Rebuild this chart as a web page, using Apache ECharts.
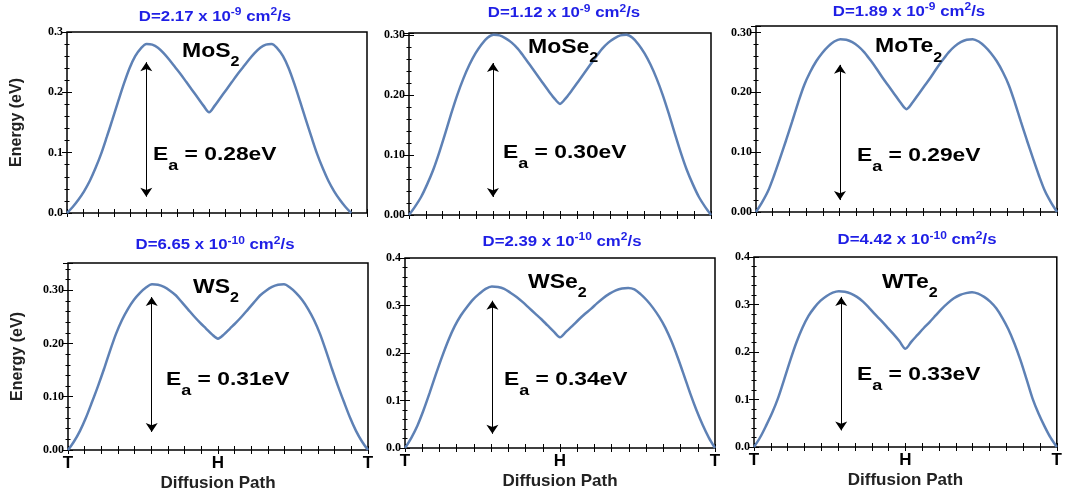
<!DOCTYPE html>
<html><head><meta charset="utf-8">
<script src="https://cdn.jsdelivr.net/npm/echarts@6/dist/echarts.min.js"></script>
<style>html,body{margin:0;padding:0;background:#fff}#c{width:1065px;height:494px}</style>
</head><body><div id="c"></div>
<script>
// ---------- data ----------
const pathX = [0, 0.02, 0.04, 0.06, 0.08, 0.10, 0.12, 0.14, 0.16, 0.18, 0.20, 0.22, 0.24, 0.26, 0.28,
               0.30, 0.32, 0.34, 0.36, 0.38, 0.40, 0.42, 0.44, 0.46, 0.48, 0.50,
               0.52, 0.54, 0.56, 0.58, 0.60, 0.62, 0.64, 0.66, 0.68, 0.70, 0.72, 0.74, 0.76, 0.78, 0.80,
               0.82, 0.84, 0.86, 0.88, 0.90, 0.92, 0.94, 0.96, 0.98, 1.00];
const energyMoS2 = [0, .010, .022, .036, .053, .074, .098, .126, .155, .185, .214, .240, .260, .273, .280,
  .279, .274, .265, .254, .242, .230, .217, .204, .191, .178, .167,
  .178, .191, .204, .217, .230, .242, .254, .265, .274, .279, .280, .273, .260, .240, .214, .185, .155, .126, .098, .074, .053, .036, .022, .010, 0];
const energyMoSe2 = [0, .014, .030, .051, .075, .104, .136, .169, .200, .227, .250, .269, .284, .295, .300,
  .299, .294, .287, .277, .264, .250, .236, .222, .208, .195, .185,
  .195, .208, .222, .236, .250, .264, .277, .287, .294, .299, .300, .295, .284, .269, .250, .227, .200, .169, .136, .104, .075, .051, .030, .014, 0];
const energyMoTe2 = [0, .016, .035, .061, .090, .120, .151, .183, .212, .234, .252, .266, .277, .285, .289,
  .288, .284, .277, .267, .254, .240, .225, .211, .197, .183, .172,
  .183, .197, .211, .225, .240, .254, .267, .277, .284, .288, .289, .285, .277, .266, .252, .234, .212, .183, .151, .120, .090, .061, .035, .016, 0];
const energyWS2 = [0, .016, .036, .061, .090, .120, .152, .186, .218, .244, .265, .282, .295, .305, .311,
  .310, .306, .299, .290, .277, .264, .251, .239, .228, .217, .209,
  .217, .228, .239, .251, .264, .277, .290, .299, .306, .310, .311, .305, .295, .282, .265, .244, .218, .186, .152, .120, .090, .061, .036, .016, 0];
const energyWSe2 = [0, .021, .047, .080, .117, .156, .193, .227, .256, .279, .297, .313, .325, .335, .340,
  .339, .335, .327, .318, .307, .295, .283, .271, .258, .245, .233,
  .245, .257, .270, .282, .293, .305, .316, .325, .332, .336, .337, .334, .324, .311, .295, .276, .253, .224, .190, .153, .115, .080, .049, .022, 0];
const energyWTe2 = [0, .020, .045, .072, .104, .143, .183, .220, .251, .276, .294, .308, .318, .325, .328,
  .327, .323, .316, .306, .293, .279, .266, .252, .238, .223, .207,
  .222, .236, .250, .263, .277, .291, .303, .313, .320, .324, .326, .323, .316, .306, .292, .272, .248, .218, .183, .143, .102, .070, .043, .019, 0];
const energies = [energyMoS2, energyMoSe2, energyMoTe2, energyWS2, energyWSe2, energyWTe2];
const materialBase = ['MoS', 'MoSe', 'MoTe', 'WS', 'WSe', 'WTe'];
const materialSub = ['2', '2', '2', '2', '2', '2'];
const barrierText = ['0.28', '0.30', '0.29', '0.31', '0.34', '0.33'];
const diffMantissa = ['2.17', '1.12', '1.89', '6.65', '2.39', '4.42'];
const diffExponent = ['-9', '-9', '-9', '-10', '-10', '-10'];
const yMax = [0.3, 0.303, 0.311, 0.351, 0.4, 0.4];
const yDecimals = [1, 2, 2, 2, 1, 1];
const xMax = [19 / 18, 1, 1, 1, 1, 1];
const arrowX = [0.279, 0.278, 0.279, 0.279, 0.282, 0.288];
const arrowTop = [0.250, 0.253, 0.246, 0.287, 0.310, 0.316];
const arrowBottom = [0.027, 0.030, 0.020, 0.034, 0.030, 0.035];
const pathTickLabels = [[0, 'T'], [0.5, 'H'], [1, 'T']];

// ---------- layout ----------
const grids = [
  {left: 67, top: 32, width: 300, height: 181},
  {left: 409, top: 33, width: 302, height: 182},
  {left: 756, top: 26, width: 301, height: 186},
  {left: 68, top: 263, width: 300, height: 187},
  {left: 405, top: 258, width: 310, height: 190},
  {left: 754, top: 257, width: 307, height: 190}
];
const titlePos = [[215, 16.7], [564, 13.3], [909, 11.7], [215, 245], [562, 241.7], [917, 240]];
const matPos = [[182, 51], [528, 47.5], [875, 46.7], [193, 287], [528, 282.5], [882, 282]];
const eaPos = [[153, 155], [503, 152.6], [857, 155.6], [166, 380], [504, 380], [857, 375]];

const SANS = '"Liberation Sans", Arial, Helvetica, sans-serif';
const SERIF = '"Liberation Serif", "Times New Roman", serif';
const lineColor = '#5E81B5';
const blue = '#1f1fe5';

const xAxes = [], yAxes = [], series = [], graphics = [];
const tickStyle = {color: '#000', width: 1};

grids.forEach((g, i) => {
  const bottomRow = i >= 3;
  const leftCol = i % 3 === 0;
  const xBase = {
    gridIndex: i, type: 'value', min: 0, max: xMax[i], interval: 1 / 18,
    axisLine: {show: false}, splitLine: {show: false},
    axisTick: {show: true, inside: true, length: 4, lineStyle: tickStyle}
  };
  xAxes.push(Object.assign({}, xBase, {
    position: 'bottom',
    axisLabel: {
      show: bottomRow, margin: 5, color: '#000', fontSize: 17, fontWeight: 'bold', fontFamily: SANS,
      formatter: v => { for (const [p, t] of pathTickLabels) if (Math.abs(v - p) < 1e-6) return t; return ''; }
    },
    name: bottomRow ? 'Diffusion Path' : '', nameLocation: 'middle', nameGap: 25,
    nameTextStyle: {color: '#222', fontSize: 17, fontWeight: 'bold', fontFamily: SANS}
  }));
  xAxes.push(Object.assign({}, xBase, {position: 'top', axisLabel: {show: false}}));
  const yBase = {
    gridIndex: i, type: 'value', min: 0, max: yMax[i], interval: 0.1,
    axisLine: {show: false}, splitLine: {show: false},
    axisTick: {show: true, inside: true, length: 5, lineStyle: tickStyle},
    minorTick: {show: true, splitNumber: 5, length: 2.5, lineStyle: tickStyle}
  };
  yAxes.push(Object.assign({}, yBase, {
    position: 'left',
    axisLabel: {
      show: true, margin: 4, color: '#000', fontSize: 12, fontWeight: 'bold', fontFamily: SERIF,
      formatter: v => Math.abs(v * 10 - Math.round(v * 10)) < 1e-6 ? v.toFixed(yDecimals[i]) : ''
    },
    name: leftCol ? 'Energy (eV)' : '', nameLocation: 'middle', nameGap: 42,
    nameTextStyle: {color: '#222', fontSize: 16, fontWeight: 'bold', fontFamily: SANS}
  }));
  yAxes.push(Object.assign({}, yBase, {position: 'right', axisLabel: {show: false}}));

  series.push({
    type: 'line', xAxisIndex: 2 * i, yAxisIndex: 2 * i,
    data: pathX.map((x, k) => [x, energies[i][k]]),
    showSymbol: false, smooth: 0.3, silent: true,
    lineStyle: {color: lineColor, width: 2.5},
    markLine: {
      silent: true, symbol: ['arrow', 'arrow'], symbolSize: 9,
      lineStyle: {color: '#000', width: 1, type: 'solid'},
      label: {show: false},
      data: [[{coord: [arrowX[i], arrowTop[i]]}, {coord: [arrowX[i], arrowBottom[i]]}]]
    }
  });

  graphics.push({
    type: 'text', x: titlePos[i][0], y: titlePos[i][1], scaleX: 1.2, silent: true, z: 100,
    style: {
      x: 0, y: 0, fill: blue, align: 'center', verticalAlign: 'middle',
      textAlign: 'center', textVerticalAlign: 'middle',
      text: `{m|D=${diffMantissa[i]} x 10}{p|${diffExponent[i]}}{m| cm}{p|2}{m|/s}`,
      rich: {
        m: {fontSize: 14, fontWeight: 'bold', fontFamily: SANS, lineHeight: 18, fill: blue},
        p: {fontSize: 10, fontWeight: 'bold', fontFamily: SANS, height: 10, verticalAlign: 'top', fill: blue}
      }
    }
  });
  graphics.push({
    type: 'text', x: matPos[i][0], y: matPos[i][1], scaleX: 1.15, silent: true, z: 100,
    style: {
      x: 0, y: 0, fill: '#000', align: 'left', verticalAlign: 'middle',
      textAlign: 'left', textVerticalAlign: 'middle',
      text: `{m|${materialBase[i]}}{b|${materialSub[i]}}`,
      rich: {
        m: {fontSize: 20, fontWeight: 'bold', fontFamily: SANS, lineHeight: 30, fill: '#000'},
        b: {fontSize: 14, fontWeight: 'bold', fontFamily: SANS, height: 8, verticalAlign: 'bottom', fill: '#000'}
      }
    }
  });
  graphics.push({
    type: 'text', x: eaPos[i][0], y: eaPos[i][1], scaleX: 1.2, silent: true, z: 100,
    style: {
      x: 0, y: 0, fill: '#000', align: 'left', verticalAlign: 'middle',
      textAlign: 'left', textVerticalAlign: 'middle',
      text: `{m|E}{b|a}{m| = ${barrierText[i]}eV}`,
      rich: {
        m: {fontSize: 19, fontWeight: 'bold', fontFamily: SANS, lineHeight: 30, fill: '#000'},
        b: {fontSize: 15, fontWeight: 'bold', fontFamily: SANS, height: 8, verticalAlign: 'bottom', fill: '#000'}
      }
    }
  });
});

const chart = echarts.init(document.getElementById('c'), null, {renderer: 'canvas'});
chart.setOption({
  animation: false,
  backgroundColor: '#fff',
  textStyle: {fontFamily: SANS},
  grid: grids.map(g => Object.assign({show: true, borderColor: '#000', borderWidth: 1.5, backgroundColor: 'transparent', containLabel: false}, g)),
  xAxis: xAxes,
  yAxis: yAxes,
  series: series,
  graphic: {elements: graphics}
});
</script>
</body></html>
